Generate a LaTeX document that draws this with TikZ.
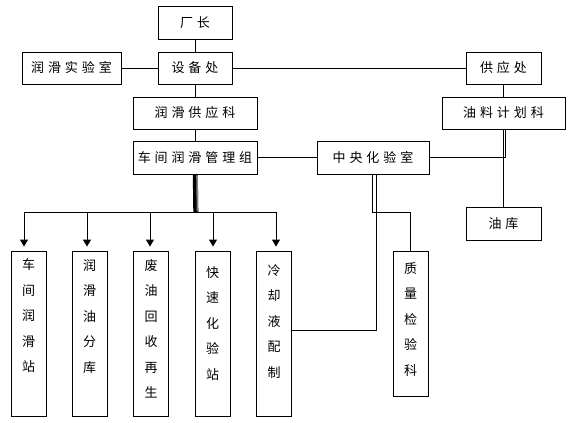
\documentclass[tikz,border=0pt]{standalone}
\usepackage{fontspec}
\usetikzlibrary{arrows.meta}
\newfontfamily\cjkh{Noto Sans CJK SC}[LetterSpace=30]
\newfontfamily\cjkv{Noto Sans CJK SC}
\begin{document}
\begin{tikzpicture}[x=1pt,y=-1pt,
  box/.style={draw,line width=0.9pt,rectangle,inner sep=0pt,font=\cjkh\fontsize{13}{15}\selectfont},
  vbox/.style={draw,line width=0.9pt,rectangle,inner sep=0pt,minimum width=35pt},
  vtxt/.style={anchor=north,inner sep=0pt,align=center,font=\cjkv\fontsize{13}{25.5}\selectfont},
  ln/.style={line width=0.9pt},
  arr/.style={line width=0.9pt,-{Triangle[width=8pt,length=7pt]}}]
\useasboundingbox[fill=white] (0,0) rectangle (574,423);
% top boxes
\node[box,minimum width=74pt,minimum height=33pt] (cz) at (195,22.5) {厂长};
\node[box,minimum width=74pt,minimum height=32pt] (sb) at (195,68) {设备处};
\node[box,minimum width=99pt,minimum height=32pt] (rs) at (71.5,68) {润滑实验室};
\node[box,minimum width=124pt,minimum height=32pt] (rg) at (195,113) {润滑供应科};
\node[box,minimum width=124pt,minimum height=33pt] (cj) at (195,157.5) {车间润滑管理组};
\node[box,minimum width=112pt,minimum height=33pt] (zy) at (373,157.5) {中央化验室};
\node[box,minimum width=75pt,minimum height=32pt] (gy) at (503.5,68) {供应处};
\node[box,minimum width=123pt,minimum height=32pt] (yl) at (503.5,113) {油料计划科};
\node[box,minimum width=75pt,minimum height=33pt] (yk) at (503.5,223.5) {油库};
% vertical boxes
\node[vbox,minimum height=165pt] (b1) at (28.5,333.5) {};
\node[vbox,minimum height=165pt] (b2) at (89.5,333.5) {};
\node[vbox,minimum height=165pt] (b3) at (151,333.5) {};
\node[vbox,minimum height=165pt] (b4) at (212.5,333.5) {};
\node[vbox,minimum height=165pt] (b5) at (274,333.5) {};
\node[vbox,minimum height=145pt] (zl) at (410.5,323.5) {};
\node[vtxt] (t1) at (28.5,258.5) {车\\间\\润\\滑\\站};
\node[vtxt] (t2) at (89.5,259) {润\\滑\\油\\分\\库};
\node[vtxt] (t3) at (151,259) {废\\油\\回\\收\\再\\生};
\node[vtxt] (t4) at (212.5,266) {快\\速\\化\\验\\站};
\node[vtxt] (t5) at (274,264) {冷\\却\\液\\配\\制};
\node[vtxt] (t6) at (410.5,262) {质\\量\\检\\验\\科};
% connectors
\draw[ln] (cz) -- (sb);
\draw[ln] (rs) -- (sb);
\draw[ln] (sb) -- (rg);
\draw[ln] (rg) -- (cj);
\draw[ln] (sb) -- (gy);
\draw[ln] (gy) -- (yl);
\draw[ln] (cj) -- (zy);
\draw[ln] (zy.east) -| ([xshift=1.5pt]yl.south);
\draw[ln] ([xshift=-0.5pt]yl.south) -- ([xshift=-0.5pt]yk.north);
\draw[ln] ([xshift=-1pt]zy.south) -- ++(0,38) -| (zl.north);
\draw[ln] ([xshift=3pt]zy.south) |- ([yshift=3.5pt]b5.east);
% thick stem and bus
\coordinate (bus) at (195.5,212);
\draw[line width=5pt] ([xshift=0.3pt]cj.south) -- ([xshift=0.3pt]bus);
\draw[line width=1.6pt,gray] ([xshift=2pt,yshift=-1pt]cj.south) -- ([xshift=2pt,yshift=1pt]bus);
\draw[arr] (bus) -| ([xshift=-4.5pt,yshift=4pt]b1.north);
\draw[arr] (bus) -| ([xshift=-2.5pt,yshift=4pt]b2.north);
\draw[arr] (bus) -| ([xshift=-1pt,yshift=4pt]b3.north);
\draw[arr] (bus) -| ([xshift=0.5pt,yshift=4pt]b4.north);
\draw[arr] (bus) -| ([xshift=2pt,yshift=4pt]b5.north);
\end{tikzpicture}
\end{document}
